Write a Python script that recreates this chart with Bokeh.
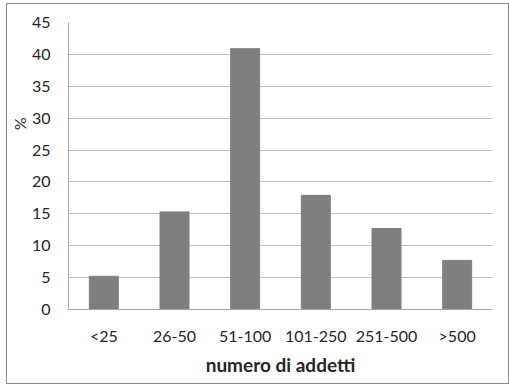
from bokeh.plotting import figure
from bokeh.embed import file_html
from bokeh.resources import INLINE
from bokeh.models import Title, FixedTicker

categories = ["<25", "26-50", "51-100", "101-250", "251-500", ">500"]
percent = [5.2, 15.3, 40.9, 17.9, 12.7, 7.7]
y_ticks = [0, 5, 10, 15, 20, 25, 30, 35, 40, 45]

p = figure(x_range=categories, y_range=(0, 45), output_backend="svg",
           toolbar_location=None, frame_width=424, frame_height=287,
           min_border_left=61, min_border_right=16, min_border_top=18, min_border_bottom=74)
p.styles = {"border": "1px solid #8a8a8a", "margin-left": "6px", "margin-top": "3px"}

p.vbar(x=categories, top=percent, width=0.41, color="#7f7f7f")

font = "Lato"
p.outline_line_color = None
p.background_fill_color = "white"
p.border_fill_color = "white"

p.yaxis.ticker = FixedTicker(ticks=y_ticks)
p.yaxis.major_tick_line_color = None
p.yaxis.minor_tick_line_color = None
p.yaxis.axis_line_color = "#a6a6a6"
p.yaxis.major_label_text_font = font
p.yaxis.major_label_text_font_size = "16px"
p.yaxis.major_label_text_color = "#262626"
p.yaxis.major_label_standoff = 12

p.xaxis.major_tick_line_color = None
p.xaxis.minor_tick_line_color = None
p.xaxis.axis_line_color = "#a6a6a6"
p.xaxis.major_label_text_font = font
p.xaxis.major_label_text_font_size = "16px"
p.xaxis.major_label_text_color = "#262626"
p.xaxis.major_label_standoff = 10
p.xaxis.axis_label = "numero di addetti"
p.xaxis.axis_label_text_font = font
p.xaxis.axis_label_text_font_style = "bold"
p.xaxis.axis_label_text_font_size = "19px"
p.xaxis.axis_label_text_color = "#262626"
p.xaxis.axis_label_standoff = 5

p.xgrid.grid_line_color = None
p.ygrid.grid_line_color = "#bfbfbf"
p.ygrid.ticker = FixedTicker(ticks=y_ticks)

ylab = Title(text="%", align="right", offset=95, vertical_align="bottom", standoff=0,
             text_font=font, text_font_size="16px", text_color="#262626",
             text_font_style="normal")
p.add_layout(ylab, "left")

open("out.html", "w").write(file_html(p, INLINE))
